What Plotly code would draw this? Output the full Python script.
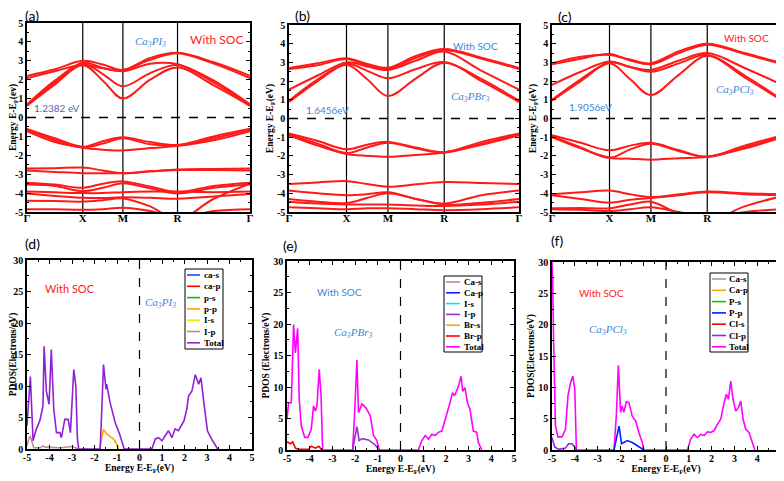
import plotly.graph_objects as go

# the page body adds an 8px margin, so the figure is drawn 8px in from the window corner
OFF = 8
FW, FH = 784 - OFF, 481 - OFF

# ---------------- band-structure data ----------------
kpath_labels = ["Γ", "X", "M", "R", "Γ"]
kpath_pos = [0.0, 0.25, 0.43, 0.675, 1.0]
# sample points: Γ, mid, X, mid, M, mid, R, mid, Γ
k_samples = [0.0, 0.125, 0.25, 0.34, 0.43, 0.5525, 0.675, 0.8375, 1.0]
band_yticks = [-5, -4, -3, -2, -1, 0, 1, 2, 3, 4, 5]
dos_xticks = [-5, -4, -3, -2, -1, 0, 1, 2, 3, 4, 5]
dos_yticks = [0, 5, 10, 15, 20, 25, 30]

bands_a = [
    [0.62, 1.75, 2.78, 1.95, 1.00, 2.00, 2.65, 1.70, 0.62],
    [0.66, 1.85, 2.85, 2.30, 1.65, 2.35, 2.78, 1.85, 0.66],
    [0.70, 1.95, 2.90, 2.62, 2.45, 2.85, 2.82, 1.95, 0.70],
    [2.08, 2.45, 2.78, 2.60, 2.50, 3.05, 3.40, 2.85, 2.08],
    [2.20, 2.55, 3.00, 2.80, 2.52, 3.15, 3.42, 2.92, 2.20],
    [-0.60, -1.10, -1.55, -1.25, -1.05, -1.30, -1.45, -1.00, -0.60],
    [-0.65, -1.20, -1.58, -1.38, -1.10, -1.42, -1.48, -1.10, -0.65],
    [-0.72, -1.30, -1.60, -1.70, -1.75, -1.62, -1.50, -1.20, -0.72],
    [-2.70, -2.68, -2.65, -2.80, -2.95, -2.85, -2.75, -2.72, -2.70],
    [-2.80, -2.88, -2.95, -2.95, -2.95, -2.85, -2.78, -2.78, -2.80],
    [-3.45, -3.55, -3.72, -3.50, -3.38, -3.65, -3.95, -3.62, -3.45],
    [-3.55, -3.62, -3.90, -3.72, -3.48, -3.75, -4.02, -3.72, -3.55],
    [-3.92, -3.96, -4.00, -4.00, -3.95, -3.92, -3.92, -3.95, -3.92],
    [-4.02, -4.15, -4.25, -4.26, -4.22, -4.25, -4.30, -4.18, -4.05],
    [-4.85, -4.86, -4.88, -4.85, -4.78, -4.95, -5.30, -4.95, -4.85],
    [-4.40, -4.42, -4.45, -4.38, -4.28, -4.70, -5.40, -4.30, -3.50],
]
bands_b = [
    [0.88, 2.00, 2.88, 2.10, 1.20, 2.15, 2.98, 2.00, 0.88],
    [0.95, 2.10, 2.92, 2.55, 2.15, 2.65, 3.02, 2.10, 0.95],
    [1.55, 2.30, 3.00, 2.78, 2.60, 3.10, 3.58, 2.55, 1.55],
    [2.65, 2.85, 3.18, 2.85, 2.65, 3.25, 3.65, 3.20, 2.65],
    [2.70, 2.95, 3.22, 2.92, 2.72, 3.35, 3.72, 3.25, 2.70],
    [-0.80, -1.20, -1.65, -1.40, -1.25, -1.55, -1.80, -1.25, -0.80],
    [-0.85, -1.35, -1.85, -1.55, -1.30, -1.60, -1.82, -1.35, -0.85],
    [-0.90, -1.45, -1.90, -2.00, -2.05, -1.95, -1.82, -1.40, -0.90],
    [-3.50, -3.42, -3.35, -3.50, -3.65, -3.52, -3.40, -3.45, -3.50],
    [-3.85, -4.00, -4.10, -4.05, -3.95, -4.30, -4.55, -4.10, -3.85],
    [-4.30, -4.45, -4.52, -4.25, -4.00, -4.30, -4.60, -4.50, -4.30],
    [-4.45, -4.55, -4.60, -4.60, -4.60, -4.65, -4.68, -4.60, -4.45],
    [-4.75, -4.80, -4.85, -4.80, -4.80, -4.85, -4.90, -4.85, -4.75],
]
bands_c = [
    [0.95, 2.00, 2.95, 2.10, 1.25, 2.35, 3.35, 2.20, 0.95],
    [1.00, 2.10, 3.00, 2.75, 2.50, 2.95, 3.40, 2.30, 1.00],
    [1.80, 2.50, 3.05, 2.75, 2.60, 3.10, 3.50, 2.70, 1.80],
    [2.90, 3.20, 3.45, 3.10, 2.90, 3.50, 3.95, 3.45, 2.90],
    [2.95, 3.30, 3.40, 3.15, 2.95, 3.60, 4.00, 3.50, 2.95],
    [-0.90, -1.30, -1.70, -1.45, -1.30, -1.70, -2.05, -1.45, -0.90],
    [-0.95, -1.55, -2.10, -1.65, -1.35, -1.75, -2.05, -1.55, -0.95],
    [-1.00, -1.60, -2.10, -2.15, -2.20, -2.12, -2.05, -1.60, -1.00],
    [-4.05, -3.95, -3.85, -4.05, -4.20, -4.05, -3.90, -4.00, -4.05],
    [-4.10, -4.30, -4.50, -4.35, -4.25, -4.10, -3.95, -4.05, -4.10],
    [-4.80, -4.78, -4.80, -4.60, -4.45, -5.10, -5.50, -4.70, -4.15],
    [-4.85, -4.88, -4.95, -4.85, -4.75, -5.00, -5.30, -5.00, -4.85],
]

# ---------------- PDOS data ----------------
d_total_e = [-5.0, -4.93, -4.85, -4.73, -4.6, -4.43, -4.29, -4.24, -4.14, -4.02, -3.92, -3.81,
             -3.69, -3.54, -3.47, -3.32, -3.17, -3.07, -2.92, -2.83, -2.76, -2.70,
             -1.75, -1.68, -1.60, -1.49, -1.46, -1.31, -1.08, -0.89, -0.68,
             0.55, 0.70, 0.85, 1.00, 1.14, 1.29, 1.44, 1.58, 1.73, 1.87, 1.98, 2.10, 2.18,
             2.33, 2.48, 2.63, 2.73, 2.88, 3.02, 3.17, 3.32, 3.47]
d_total_v = [3.7, 8.0, 11.5, 1.3, 3.0, 4.5, 6.8, 16.3, 9.2, 7.1, 15.8, 6.3,
             2.6, 2.6, 1.8, 4.7, 4.7, 2.6, 12.6, 10.0, 1.6, 0.0,
             0.0, 5.8, 13.4, 9.5, 10.3, 7.4, 4.2, 2.4, 0.0,
             0.0, 1.6, 1.8, 1.3, 2.1, 2.9, 1.8, 3.2, 2.9, 3.9, 4.5, 6.3, 8.4,
             9.2, 11.8, 10.3, 11.3, 6.8, 2.9, 1.8, 1.0, 0.0]
d_pp_e = [-1.78, -1.68, -1.60, -1.46, -1.16, -1.02, -0.93]
d_pp_v = [0.0, 2.0, 3.1, 2.4, 1.6, 0.8, 0.0]
d_ip_e = [-5.0, -4.9, -4.85, -4.78, -4.7, -4.4, -4.3, -4.2, -3.5, -3.0, -2.8, -2.7]
d_ip_v = [0.5, 1.8, 2.0, 1.0, 0.2, 0.2, 0.5, 0.3, 0.2, 0.4, 0.2, 0.0]

e_total_e = [-5.0, -4.93, -4.81, -4.71, -4.63, -4.53, -4.46, -4.37, -4.22, -4.08, -3.93, -3.83,
             -3.75, -3.68, -3.58, -3.50, -3.43,
             -2.11, -2.02, -1.92, -1.85, -1.70, -1.52, -1.33, -1.19, -1.04, -0.94,
             0.79, 0.94, 1.09, 1.23, 1.38, 1.52, 1.67, 1.82, 1.94, 2.04, 2.18, 2.29, 2.38,
             2.55, 2.67, 2.74, 2.84, 2.95, 3.06, 3.21, 3.36, 3.43, 3.58]
e_total_v = [4.9, 7.5, 7.5, 19.9, 15.4, 19.3, 8.0, 3.8, 2.0, 2.0, 3.3, 7.0,
             6.2, 7.0, 12.8, 8.6, 0.0,
             0.0, 5.9, 14.3, 5.9, 7.3, 6.7, 5.4, 2.3, 1.5, 0.0,
             0.0, 1.5, 2.3, 1.7, 2.5, 2.3, 2.8, 3.0, 4.4, 5.9, 7.5, 9.1, 8.6,
             10.1, 11.7, 9.3, 9.9, 7.5, 6.5, 3.0, 2.8, 1.2, 0.0]
e_ip_e = [-2.11, -1.99, -1.92, -1.82, -1.70, -1.41, -1.11, -0.94]
e_ip_v = [0.0, 2.0, 3.7, 1.5, 1.8, 1.6, 0.8, 0.0]
e_brp_e = [-5.0, -4.85, -4.75, -4.63, -4.49, -4.05, -3.93, -3.75, -3.60, -3.46]
e_brp_v = [1.3, 1.0, 1.3, 0.3, 0.1, 0.1, 0.6, 0.3, 0.6, 0.0]

f_total_e = [-5.0, -4.97, -4.93, -4.85, -4.74, -4.56, -4.41, -4.30, -4.19, -4.09, -4.00, -3.93,
             -2.28, -2.18, -2.09, -1.99, -1.92, -1.85, -1.74, -1.63, -1.48, -1.33, -1.19, -1.04, -0.97,
             0.94, 1.08, 1.23, 1.38, 1.52, 1.67, 1.82, 1.96, 2.11, 2.25, 2.40, 2.55, 2.65, 2.74,
             2.84, 2.94, 3.06, 3.18, 3.28, 3.38, 3.50, 3.64, 3.79, 3.90]
f_total_v = [30.0, 27.0, 17.6, 3.9, 2.1, 2.1, 3.3, 8.6, 10.7, 11.8, 9.7, 0.0,
             0.0, 5.4, 13.5, 6.0, 7.0, 6.0, 7.7, 7.6, 5.4, 4.6, 2.8, 1.2, 0.0,
             0.0, 1.7, 2.5, 2.0, 2.5, 2.3, 2.9, 2.8, 3.1, 4.1, 4.9, 7.6, 8.9, 8.1,
             11.0, 8.1, 6.2, 6.8, 7.8, 4.9, 3.3, 2.8, 1.2, 0.0]
f_pp_e = [-2.28, -2.14, -2.06, -1.95, -1.85, -1.70, -1.48, -1.19, -0.97]
f_pp_v = [0.0, 2.5, 3.8, 1.0, 1.2, 1.5, 1.2, 0.5, 0.0]
f_clp_e = [-5.0, -4.88, -4.71, -4.41, -4.27, -4.12, -3.97, -3.93]
f_clp_v = [2.0, 0.5, 0.1, 0.3, 1.0, 1.0, 0.3, 0.0]

legend_d = ["ca-s", "ca-p", "p-s", "p-p", "I-s", "I-p", "Total"]
legend_e = ["Ca-s", "Ca-p", "I-s", "I-p", "Br-s", "Br-p", "Total"]
legend_f = ["Ca-s", "Ca-p", "P-s", "P-p", "Cl-s", "Cl-p", "Total"]

# ---------------- styles ----------------
RED = "#ff1a1a"
PURPLE = "#8f22d6"
MAGENTA = "#ff00ff"
colors_d = ["#2040ff", "#ff0000", "#00c000", "#ffa500", "#e8e800", "#bc8f8f", PURPLE]
colors_e = ["#bc8f8f", "#1a1aff", "#00e5ff", "#9932cc", "#ffa500", "#ff0000", MAGENTA]
colors_f = ["#bc8f8f", "#ffa500", "#00d000", "#0020ff", "#ff0000", "#8a2be2", MAGENTA]
BLUE_TXT = "#3c87d8"
SERIF = "Liberation Serif"
SANS = "Lato"


def px(x):
    return (x - OFF) / FW


def py(y):
    return 1 - (y - OFF) / FH


def bold(vals):
    return ["<b>%g</b>" % v for v in vals]


fig = go.Figure()

panels_band = [
    ("x", "y", bands_a, [27, 250, 23, 212]),
    ("x2", "y2", bands_b, [289, 519, 25, 212]),
    ("x3", "y3", bands_c, [552, 782, 25, 212]),
]
panels_dos = [
    ("x4", "y4", [27, 252, 260, 449]),
    ("x5", "y5", [287, 514, 261, 450]),
    ("x6", "y6", [552, 780, 262, 450]),
]

shapes = []
annotations = []
layout_axes = {}

TICKFONT = dict(family=SERIF, size=10, color="black")
TITLEFONT = dict(family=SERIF, size=9.5, color="black", weight="bold")
axis_common = dict(showline=True, linecolor="black", linewidth=1.5, mirror="ticks",
                   ticks="inside", tickcolor="black", showgrid=False, zeroline=False,
                   automargin=False, tickfont=TICKFONT)

for i, (xa, ya, bands, box) in enumerate(panels_band):
    for b in bands:
        fig.add_trace(go.Scatter(x=k_samples, y=b, mode="lines", xaxis=xa, yaxis=ya,
                                 line=dict(color=RED, width=2, shape="spline", smoothing=1.0),
                                 showlegend=False, hoverinfo="skip"))
    xn = "xaxis" + xa[1:]
    yn = "yaxis" + ya[1:]
    unit = "(ev)" if i == 0 else "(eV)"
    layout_axes[xn] = dict(axis_common, domain=[px(box[0]), px(box[1])], anchor=ya,
                           range=[0, 1], tickvals=kpath_pos,
                           ticktext=["<b>" + t + "</b>" for t in kpath_labels],
                           tickfont=dict(family=SERIF, size=11, color="black"),
                           ticks="", ticklabelstandoff=-5)
    layout_axes[yn] = dict(axis_common, domain=[py(box[3]), py(box[2])], anchor=xa,
                           range=[-5, 5], tickvals=band_yticks, ticktext=bold(band_yticks), ticklen=4,
                           minor=dict(dtick=0.5, ticklen=2, ticks="inside", tickcolor="black"),
                           title=dict(text="Energy E-E<sub>F</sub>" + unit, font=TITLEFONT, standoff=2))
    for kp in kpath_pos[1:-1]:
        shapes.append(dict(type="line", xref=xa, yref=ya + " domain", x0=kp, x1=kp, y0=0, y1=1,
                           line=dict(color="black", width=1.2), layer="below"))
    shapes.append(dict(type="line", xref=xa + " domain", yref=ya, x0=0, x1=1, y0=0, y1=0,
                       line=dict(color="black", width=1.5, dash="dash")))

dos_series = [
    [(d_pp_e, d_pp_v, colors_d[3]), (d_ip_e, d_ip_v, colors_d[5]), (d_total_e, d_total_v, colors_d[6])],
    [(e_total_e, e_total_v, colors_e[6]), (e_brp_e, e_brp_v, colors_e[5]), (e_ip_e, e_ip_v, colors_e[3])],
    [(f_total_e, f_total_v, colors_f[6]), (f_clp_e, f_clp_v, colors_f[5]), (f_pp_e, f_pp_v, colors_f[3])],
]
ytitles = ["PDOS(Electrons/eV)", "PDOS (Electrons/eV)", "PDOS(Electrons/eV)"]

for i, (xa, ya, box) in enumerate(panels_dos):
    for (ex, vy, col) in dos_series[i]:
        fig.add_trace(go.Scatter(x=ex, y=vy, mode="lines", xaxis=xa, yaxis=ya,
                                 line=dict(color=col, width=1.6), showlegend=False, hoverinfo="skip"))
    xn = "xaxis" + xa[1:]
    yn = "yaxis" + ya[1:]
    layout_axes[xn] = dict(axis_common, domain=[px(box[0]), px(box[1])], anchor=ya,
                           range=[-5, 5], tickvals=dos_xticks, ticktext=bold(dos_xticks), ticklen=4,
                           ticklabelstandoff=-2,
                           minor=dict(dtick=0.5, ticklen=2, ticks="inside", tickcolor="black"),
                           title=dict(text="Energy E-E<sub>F</sub>(eV)", font=TITLEFONT, standoff=0))
    layout_axes[yn] = dict(axis_common, domain=[py(box[3]), py(box[2])], anchor=xa,
                           range=[0, 30], tickvals=dos_yticks, ticktext=bold(dos_yticks), ticklen=4,
                           minor=dict(dtick=2.5, ticklen=2, ticks="inside", tickcolor="black"),
                           title=dict(text=ytitles[i], font=TITLEFONT, standoff=2))
    shapes.append(dict(type="line", xref=xa, yref=ya + " domain", x0=0, x1=0, y0=0, y1=1,
                       line=dict(color="black", width=1.2, dash="dash")))


def text(x, y, s, color, size=11, family=SANS, xanchor="left"):
    annotations.append(dict(x=px(x), y=py(y), xref="paper", yref="paper", text=s, showarrow=False,
                            xanchor=xanchor, yanchor="middle",
                            font=dict(family=family, size=size, color=color)))


# panel labels
for (x, y, s) in [(23, 16, "(a)"), (293, 16, "(b)"), (556, 17, "(c)"),
                  (23, 243, "(d)"), (281, 245, "(e)"), (549, 240, "(f)")]:
    text(x, y, s, "black", size=14)

# band annotations
text(133, 42, "<i>Ca<sub>3</sub>PI<sub>3</sub></i>", BLUE_TXT, size=11, family=SERIF)
text(188, 40, "With SOC", "#ff2020", size=12)
text(32, 108, "1.2382 eV", "#4a6bb0", size=10)
text(451, 46, "With SOC", BLUE_TXT, size=10)
text(449, 97, "<i>Ca<sub>3</sub>PBr<sub>3</sub></i>", BLUE_TXT, size=11, family=SERIF)
text(304, 110, "1.6456eV", BLUE_TXT, size=10)
text(722, 38, "With SOC", "#ff2020", size=10)
text(714, 90, "<i>Ca<sub>3</sub>PCl<sub>3</sub></i>", BLUE_TXT, size=11, family=SERIF)
text(567, 107, "1.9056eV", BLUE_TXT, size=10)

# pdos annotations
text(43, 288, "With SOC", "#ff2020", size=11)
text(143, 303, "<i>Ca<sub>3</sub>PI<sub>3</sub></i>", BLUE_TXT, size=11, family=SERIF)
text(315, 292, "With SOC", BLUE_TXT, size=10)
text(332, 333, "<i>Ca<sub>3</sub>PBr<sub>3</sub></i>", BLUE_TXT, size=11, family=SERIF)
text(577, 293, "With SOC", "#ff2020", size=10)
text(587, 330, "<i>Ca<sub>3</sub>PCl<sub>3</sub></i>", BLUE_TXT, size=11, family=SERIF)


def manual_legend(labels, cols, box, y0, step, lx0, lx1, tx):
    shapes.append(dict(type="rect", xref="paper", yref="paper",
                       x0=px(box[0]), x1=px(box[1]), y0=py(box[3]), y1=py(box[2]),
                       line=dict(color="black", width=1), fillcolor="white"))
    for j, (lab, c) in enumerate(zip(labels, cols)):
        yy = y0 + j * step
        shapes.append(dict(type="line", xref="paper", yref="paper", x0=px(lx0), x1=px(lx1),
                           y0=py(yy), y1=py(yy), line=dict(color=c, width=1.6)))
        text(tx, yy, "<b>" + lab + "</b>", "black", size=9, family=SERIF)


manual_legend(legend_d, colors_d, [185, 223, 269, 349], 275, 11.3, 187, 200, 202)
manual_legend(legend_e, colors_e, [444, 482, 276, 352], 282, 10.8, 446, 460, 462)
manual_legend(legend_f, colors_f, [710, 748, 273, 352], 279, 11.3, 712, 726, 727)

fig.update_layout(template="none", width=FW, height=FH, margin=dict(l=0, r=0, t=0, b=0),
                  paper_bgcolor="white", plot_bgcolor="white", showlegend=False,
                  shapes=shapes, annotations=annotations, **layout_axes)

fig.write_html("out.html")
